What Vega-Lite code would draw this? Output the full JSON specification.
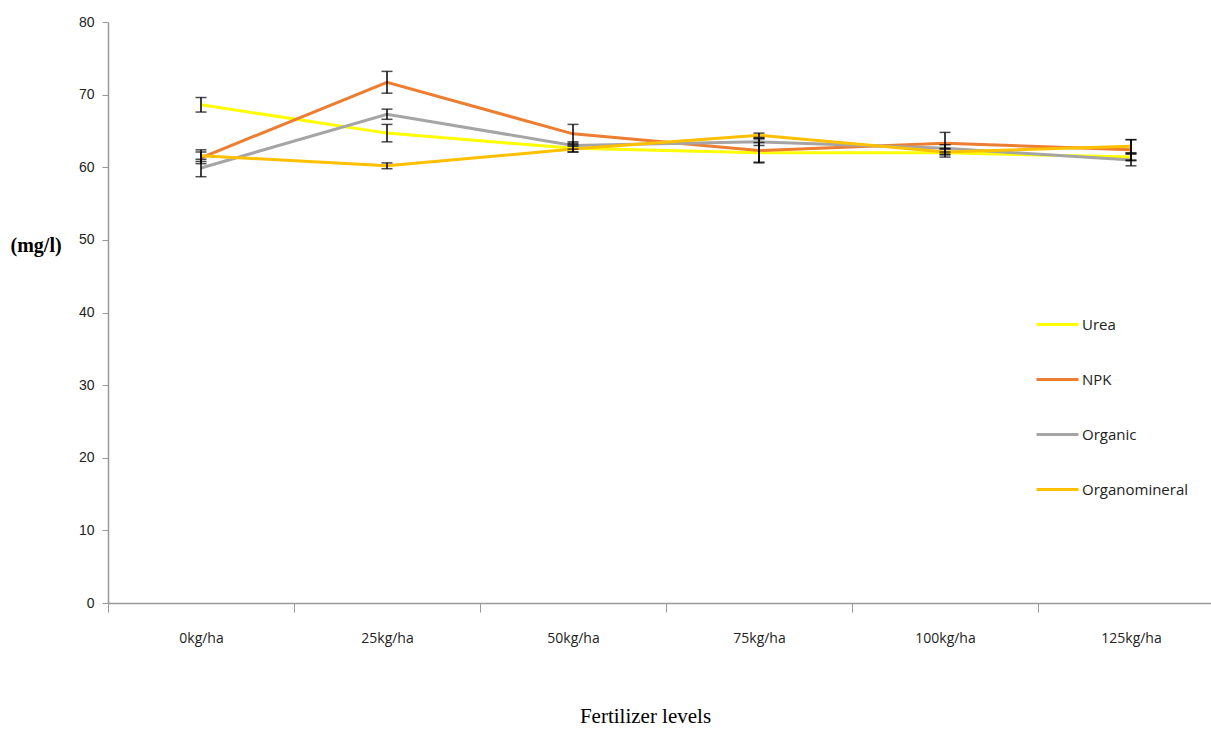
{
  "$schema": "https://vega.github.io/schema/vega-lite/v6.json",
  "width": 1116,
  "height": 581,
  "autosize": {"type": "none"},
  "padding": {"left": 108, "top": 22, "right": 0, "bottom": 126},
  "background": "white",
  "config": {"view": {"stroke": null}},
  "data": {"values": [
    {"level": "0kg/ha", "series": "Urea", "value": 68.6, "err": 1.0},
    {"level": "25kg/ha", "series": "Urea", "value": 64.7, "err": 1.2},
    {"level": "50kg/ha", "series": "Urea", "value": 62.6, "err": 0.5},
    {"level": "75kg/ha", "series": "Urea", "value": 62.0, "err": 1.4},
    {"level": "100kg/ha", "series": "Urea", "value": 62.0, "err": 0.6},
    {"level": "125kg/ha", "series": "Urea", "value": 61.4, "err": 0.5},
    {"level": "0kg/ha", "series": "NPK", "value": 61.3, "err": 0.8},
    {"level": "25kg/ha", "series": "NPK", "value": 71.7, "err": 1.5},
    {"level": "50kg/ha", "series": "NPK", "value": 64.6, "err": 1.3},
    {"level": "75kg/ha", "series": "NPK", "value": 62.3, "err": 1.6},
    {"level": "100kg/ha", "series": "NPK", "value": 63.3, "err": 1.5},
    {"level": "125kg/ha", "series": "NPK", "value": 62.4, "err": 1.4},
    {"level": "0kg/ha", "series": "Organic", "value": 59.9, "err": 1.2},
    {"level": "25kg/ha", "series": "Organic", "value": 67.3, "err": 0.7},
    {"level": "50kg/ha", "series": "Organic", "value": 63.0, "err": 0.5},
    {"level": "75kg/ha", "series": "Organic", "value": 63.5, "err": 0.5},
    {"level": "100kg/ha", "series": "Organic", "value": 62.6, "err": 0.5},
    {"level": "125kg/ha", "series": "Organic", "value": 61.0, "err": 0.8},
    {"level": "0kg/ha", "series": "Organomineral", "value": 61.6, "err": 0.8},
    {"level": "25kg/ha", "series": "Organomineral", "value": 60.2, "err": 0.4},
    {"level": "50kg/ha", "series": "Organomineral", "value": 62.5, "err": 0.4},
    {"level": "75kg/ha", "series": "Organomineral", "value": 64.4, "err": 0.3},
    {"level": "100kg/ha", "series": "Organomineral", "value": 62.1, "err": 0.4},
    {"level": "125kg/ha", "series": "Organomineral", "value": 62.9, "err": 0.9}
  ]},
  "transform": [
    {"calculate": "datum.value - datum.err", "as": "lo"},
    {"calculate": "datum.value + datum.err", "as": "hi"}
  ],
  "encoding": {
    "x": {
      "field": "level", "type": "nominal",
      "sort": ["0kg/ha", "25kg/ha", "50kg/ha", "75kg/ha", "100kg/ha", "125kg/ha"],
      "scale": {"type": "band", "paddingInner": 0, "paddingOuter": 0},
      "axis": {
        "title": "Fertilizer levels",
        "titleFont": "Liberation Serif", "titleFontSize": 21, "titleFontWeight": "normal",
        "titleColor": "#000", "titlePadding": 60, "titleX": 537,
        "labelAngle": 0, "labelFont": "Open Sans", "labelFontSize": 14, "labelColor": "#222",
        "labelPadding": 19, "bandPosition": 0, "tickBand": "extent",
        "ticks": true, "tickSize": 9, "tickColor": "#999", "domainColor": "#999", "domainWidth": 1.5
      }
    },
    "y": {
      "type": "quantitative",
      "scale": {"domain": [0, 80]},
      "axis": {
        "values": [0, 10, 20, 30, 40, 50, 60, 70, 80],
        "grid": false, "tickSize": 6, "tickColor": "#999", "domainColor": "#999", "domainWidth": 1.5,
        "labelFont": "Liberation Sans", "labelFontSize": 14, "labelColor": "#222", "labelPadding": 8,
        "title": "(mg/l)", "titleAngle": 0, "titleFont": "Liberation Serif", "titleFontSize": 20,
        "titleFontWeight": "bold", "titleColor": "#000", "titleX": -98, "titleY": 223,
        "titleAlign": "left", "titleBaseline": "middle"
      }
    }
  },
  "layer": [
    {
      "mark": {"type": "line", "strokeWidth": 3},
      "encoding": {
        "y": {"field": "value", "type": "quantitative"},
        "color": {
          "field": "series", "type": "nominal",
          "scale": {"domain": ["Urea", "NPK", "Organic", "Organomineral"],
                    "range": ["#FFFF00", "#ED7D31", "#A5A5A5", "#FFC000"]},
          "legend": {
            "title": null, "orient": "none", "legendX": 927, "legendY": 280,
            "symbolType": "stroke", "symbolSize": 1764, "symbolStrokeWidth": 3,
            "labelFont": "Open Sans", "labelFontSize": 15, "labelColor": "#222",
            "rowPadding": 24, "labelOffset": 2
          }
        }
      }
    },
    {
      "mark": {"type": "rule", "color": "#000", "strokeWidth": 1.5},
      "encoding": {
        "y": {"field": "lo", "type": "quantitative"},
        "y2": {"field": "hi"}
      }
    },
    {
      "mark": {"type": "tick", "color": "#000", "thickness": 1.5, "size": 11},
      "encoding": {"y": {"field": "lo", "type": "quantitative"}}
    },
    {
      "mark": {"type": "tick", "color": "#000", "thickness": 1.5, "size": 11},
      "encoding": {"y": {"field": "hi", "type": "quantitative"}}
    }
  ]
}
